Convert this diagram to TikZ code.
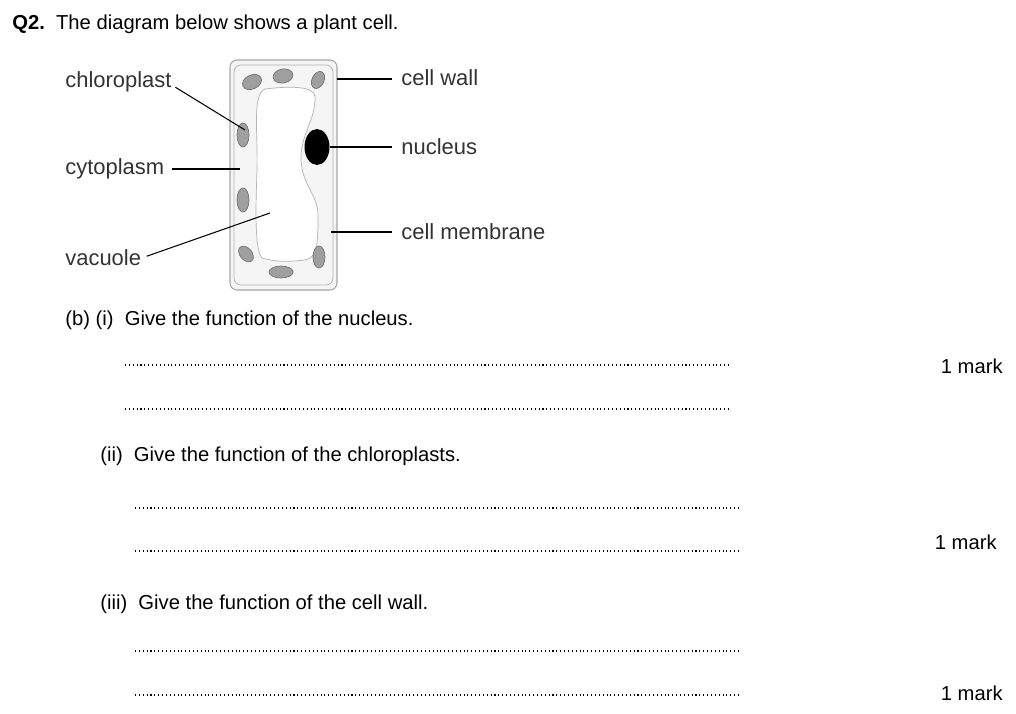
\documentclass[tikz,border=0pt]{standalone}
\usepackage{fontspec}
\setmainfont{Liberation Sans}
\usepackage{xcolor}
\usepackage{tikz}

\begin{document}
\begin{tikzpicture}[x=0.02cm,y=-0.02cm,
    txt/.style={anchor=west, inner sep=0pt, font=\fontsize{11.5}{13}\selectfont},
    lbl/.style={anchor=west, inner sep=0pt, font=\fontsize{12.5}{14}\selectfont, text=black!80},
    marks/.style={anchor=east, inner sep=0pt, font=\fontsize{11.5}{13}\selectfont},
    ans/.style={line width=0.6pt, dash pattern=on 0.6pt off 1.6pt},
    chl/.style={fill=gray!75, draw=gray!90!black, line width=0.4pt},
    lead/.style={line width=0.6pt}]
    \useasboundingbox (0,0) rectangle (1016,713);

    % Heading
    \node[txt] (q) at (12,24) {\textbf{Q2.}\ \ The diagram below shows a plant cell.};

    % Cell
    \draw[fill=gray!8, draw=gray!70, line width=0.6pt, rounded corners=4] (230,60) rectangle (337,290);
    \draw[draw=gray!60, line width=0.4pt, rounded corners=4] (234,65) rectangle (333,285);
    \draw[fill=white, draw=gray!60, line width=0.4pt]
        (265,89) .. controls (290,86) and (313,86) .. (315,96)
        .. controls (316,120) and (300,135) .. (301,160)
        .. controls (302,185) and (318,195) .. (318,215)
        .. controls (318,240) and (318,258) .. (305,260)
        .. controls (290,262) and (275,262) .. (262,258)
        .. controls (254,250) and (256,200) .. (257,170)
        .. controls (258,130) and (252,95) .. (265,89) -- cycle;
    \fill (317,147) ellipse [x radius=12.5, y radius=18];
    \coordinate (nuc) at (330,147);
    % Chloroplasts
    \foreach \cx/\cy/\a/\b/\r in {252/82/10/7/25, 283/76/10/7/10, 318/80/9/6/65,
        243/135/6/12/0, 243/200/6/12/0, 246/254/9/6/-50, 281/272/12/6/0, 319/257/6/11/0}
        \draw[chl, rotate around={\r:(\cx,\cy)}] (\cx,\cy) ellipse [x radius=\a, y radius=\b];

    % Labels
    \node[lbl] (chloro) at (65,82) {chloroplast};
    \node[lbl] (cyto) at (65,169) {cytoplasm};
    \node[lbl] (vac) at (65,258) {vacuole};
    \node[lbl] (wall) at (401,78) {cell wall};
    \node[lbl] (nucl) at (401,147) {nucleus};
    \node[lbl] (memb) at (401,232) {cell membrane};
    \coordinate (chlEnd) at (245,130);
    \coordinate (cytEnd) at (240,169);
    \coordinate (vacEnd) at (270,213);
    \coordinate (wallEnd) at (337,79);
    \coordinate (membEnd) at (331,232);
    \draw[lead] ([xshift=2pt,yshift=-3pt]chloro.east) -- (chlEnd);
    \draw[lead] ([xshift=4pt]cyto.east) -- (cytEnd);
    \draw[lead] ([xshift=3pt,yshift=1pt]vac.east) -- (vacEnd);
    \draw[lead] (wallEnd) -- ([xshift=-5pt]wall.west |- wallEnd);
    \draw[lead] (nuc) -- ([xshift=-5pt]nucl.west);
    \draw[lead] (membEnd) -- ([xshift=-5pt]memb.west);

    % Questions
    \node[txt] (qi) at (65,320) {(b)\ (i)\ \ Give the function of the nucleus.};
    \coordinate (ia) at (125,365); \coordinate (ib) at (731,365);
    \coordinate (ic) at (125,409); \coordinate (id) at (731,409);
    \draw[ans] (ia) -- (ib);
    \draw[ans] (ic) -- (id);
    \node[marks] (m1) at (1003,366) {1 mark};

    \node[txt] (qii) at (100,456) {(ii)\ \ Give the function of the chloroplasts.};
    \coordinate (iia) at (135,508); \coordinate (iib) at (739,508);
    \coordinate (iic) at (135,551); \coordinate (iid) at (739,551);
    \draw[ans] (iia) -- (iib);
    \draw[ans] (iic) -- (iid);
    \node[marks] (m2) at (997,542) {1 mark};

    \node[txt] (qiii) at (100,604) {(iii)\ \ Give the function of the cell wall.};
    \coordinate (iiia) at (135,651); \coordinate (iiib) at (741,651);
    \coordinate (iiic) at (135,695); \coordinate (iiid) at (741,695);
    \draw[ans] (iiia) -- (iiib);
    \draw[ans] (iiic) -- (iiid);
    \node[marks] (m3) at (1003,693) {1 mark};
\end{tikzpicture}
\end{document}
